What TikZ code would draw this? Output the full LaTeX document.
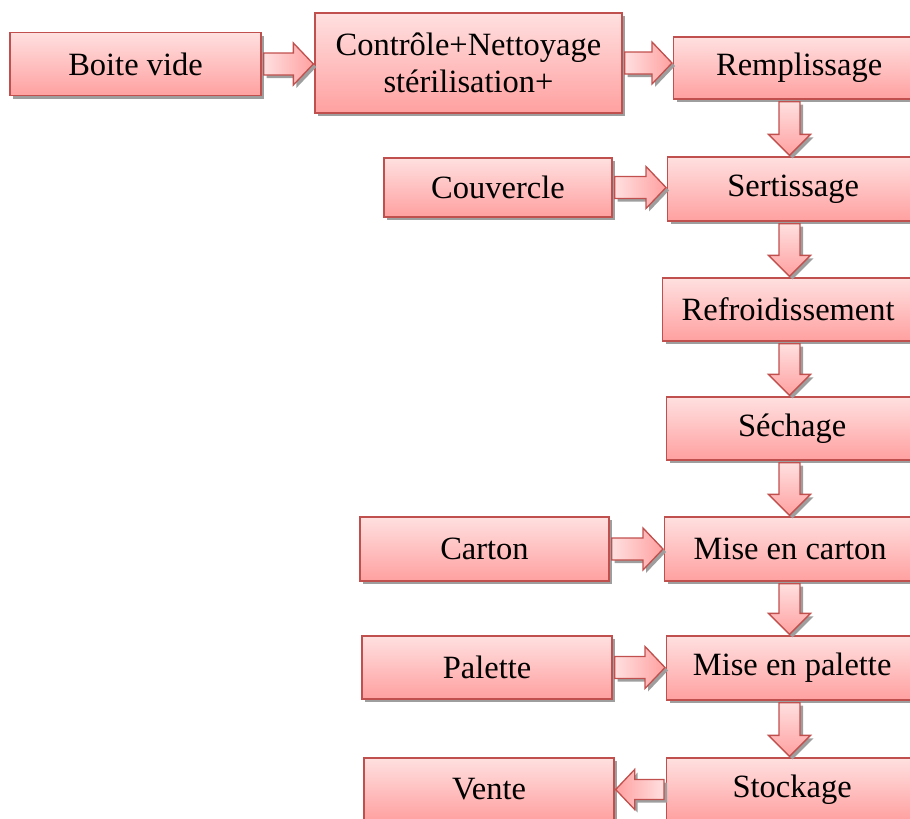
\documentclass[tikz,border=0pt]{standalone}
\usepackage{fontspec}
\setmainfont{Liberation Serif}
\usepackage{tikz}
\usetikzlibrary{calc,shadows}
\definecolor{boxtop}{RGB}{255,224,224}
\definecolor{boxbot}{RGB}{255,160,160}
\definecolor{bord}{RGB}{192,80,77}

% fleche bloc vers la droite (ou la gauche) : de #1 vers #2
\newcommand{\flecheDroite}[2]{%
  \path[fleche,left color=boxtop,right color=boxbot] let \p1=(#1.east), \p2=(#2.west) in
    (\x1+2pt,\y1+11pt) -- (\x2-21pt,\y1+11pt) -- (\x2-21pt,\y1+21pt) -- (\x2-1pt,\y1)
    -- (\x2-21pt,\y1-21pt) -- (\x2-21pt,\y1-11pt) -- (\x1+2pt,\y1-11pt) -- cycle;}
\newcommand{\flecheGauche}[2]{%
  \path[fleche,left color=boxbot,right color=boxtop] let \p1=(#1.west), \p2=(#2.east) in
    (\x1-2pt,\y1+10pt) -- (\x2+20pt,\y1+10pt) -- (\x2+20pt,\y1+20pt) -- (\x2+1pt,\y1)
    -- (\x2+20pt,\y1-20pt) -- (\x2+20pt,\y1-10pt) -- (\x1-2pt,\y1-10pt) -- cycle;}
% fleche bloc vers le bas, sur l'axe de la colonne de droite
\newcommand{\flecheBas}[2]{%
  \path[fleche,top color=boxtop,bottom color=boxbot] let \p1=(#1.south), \p2=(#2.north), \p3=(axe) in
    (\x3-10.5pt,\y1-2pt) -- (\x3+10.5pt,\y1-2pt) -- (\x3+10.5pt,\y2+22pt) -- (\x3+21pt,\y2+22pt)
    -- (\x3,\y2+1pt) -- (\x3-21pt,\y2+22pt) -- (\x3-10.5pt,\y2+22pt) -- cycle;}

\begin{document}
\begin{tikzpicture}[x=1pt,y=-1pt,
    ombre/.style={drop shadow={shadow xshift=3pt,shadow yshift=-3pt,fill=black!38,opacity=1}},
    etape/.style={draw=bord,line width=1.3pt,top color=boxtop,bottom color=boxbot,ombre,
        minimum height=63pt,inner sep=2pt,align=center,font=\fontsize{32.5}{37}\selectfont},
    droite/.style={etape,anchor=west,minimum width=251pt},
    fleche/.style={draw=bord,line width=1.3pt,line join=miter,ombre}]
\useasboundingbox (0,0) rectangle (910,819);
\clip (0,0) rectangle (910,819);
\coordinate (axe) at (789.5,0);
%Etapes
    \node[etape,minimum width=251pt] (boite) at (135.5,64) {Boite vide};
    \node[etape,minimum width=307pt,minimum height=100pt] (controle) at (468.5,63) {Contrôle+Nettoyage\\stérilisation+};
    \node[droite,minimum height=62pt] (rempl) at (673,68) {Remplissage};
    \node[etape,minimum width=228pt,minimum height=59pt] (couv) at (498,187.5) {Couvercle};
    \node[droite,minimum height=64pt] (sert) at (667,189) {Sertissage};
    \node[droite] (refroid) at (662,309.5) {Refroidissement};
    \node[droite] (sechage) at (666,428.5) {Séchage};
    \node[etape,minimum width=249pt,minimum height=64pt] (carton) at (484.5,549) {Carton};
    \node[droite,minimum height=64pt] (misecarton) at (664,549) {Mise en carton};
    \node[etape,minimum width=250pt] (palette) at (487,667.5) {Palette};
    \node[droite,minimum height=64pt] (misepalette) at (666,668) {Mise en palette};
    \node[etape,minimum width=250pt] (vente) at (489,789.5) {Vente};
    \node[droite] (stockage) at (666,789.5) {Stockage};

%Fleches
    \flecheDroite{boite}{controle}
    \flecheDroite{controle}{rempl}
    \flecheDroite{couv}{sert}
    \flecheDroite{carton}{misecarton}
    \flecheDroite{palette}{misepalette}
    \flecheGauche{stockage}{vente}
    \flecheBas{rempl}{sert}
    \flecheBas{sert}{refroid}
    \flecheBas{refroid}{sechage}
    \flecheBas{sechage}{misecarton}
    \flecheBas{misecarton}{misepalette}
    \flecheBas{misepalette}{stockage}
\end{tikzpicture}
\end{document}
